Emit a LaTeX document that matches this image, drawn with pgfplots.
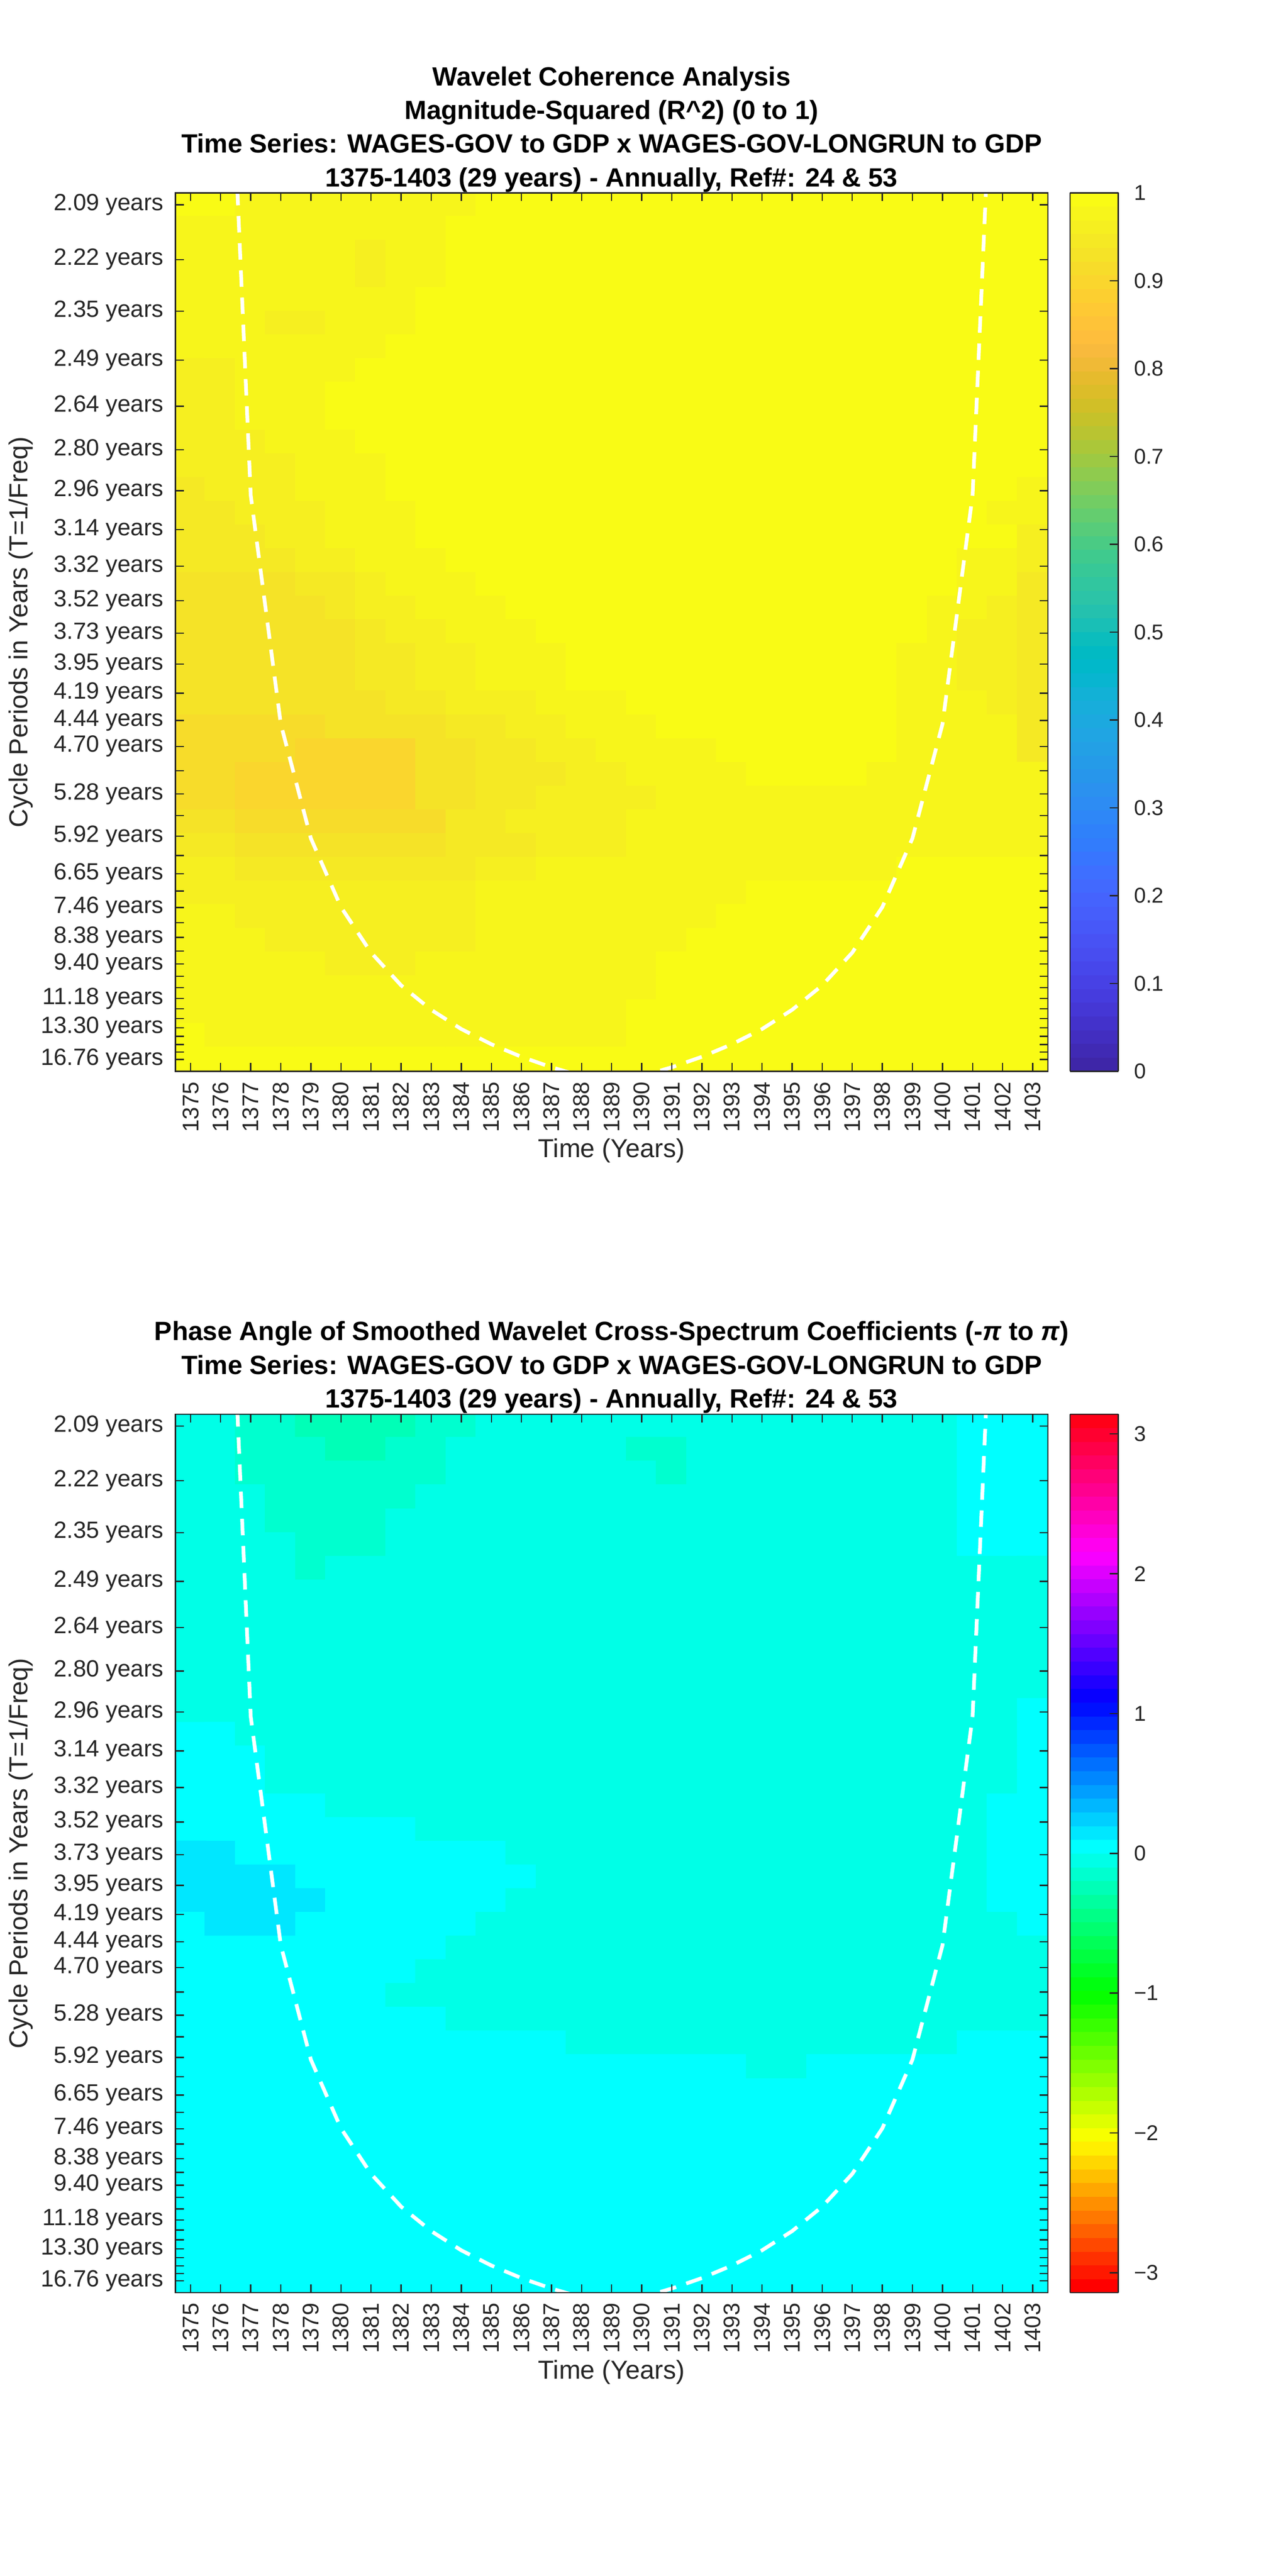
\documentclass[border=0pt]{standalone}
\usepackage{fontspec}
\setmainfont{Liberation Sans}
\usepackage{pgfplots}
\usepackage{pgfplotstable}
\pgfplotsset{compat=1.18}
\definecolor{axc}{HTML}{262626}
\newcommand\xtfont{\fontsize{5.5}{6}\selectfont}
\newcommand\ytfont{\fontsize{5.7}{6.5}\selectfont}
\newcommand\cbfont{\fontsize{5.2}{6}\selectfont}
\newcommand\labfont{\fontsize{6.3}{7.5}\selectfont}
\newcommand\titfont{\bfseries\fontsize{6.4}{8.17}\selectfont}

\pgfplotsset{
  colormap={parula}{
    rgb=(0.2422,0.1504,0.6603) rgb=(0.2504,0.1650,0.7076) rgb=(0.2578,0.1818,0.7511) rgb=(0.2647,0.1978,0.7952)
    rgb=(0.2706,0.2147,0.8364) rgb=(0.2751,0.2342,0.8710) rgb=(0.2783,0.2559,0.8991) rgb=(0.2803,0.2782,0.9221)
    rgb=(0.2813,0.3006,0.9414) rgb=(0.2810,0.3228,0.9579) rgb=(0.2795,0.3447,0.9717) rgb=(0.2760,0.3667,0.9829)
    rgb=(0.2699,0.3892,0.9906) rgb=(0.2602,0.4123,0.9952) rgb=(0.2440,0.4358,0.9988) rgb=(0.2206,0.4603,0.9973)
    rgb=(0.1963,0.4847,0.9892) rgb=(0.1834,0.5074,0.9798) rgb=(0.1786,0.5289,0.9682) rgb=(0.1764,0.5499,0.9520)
    rgb=(0.1687,0.5703,0.9359) rgb=(0.1540,0.5902,0.9218) rgb=(0.1460,0.6091,0.9079) rgb=(0.1380,0.6276,0.8973)
    rgb=(0.1248,0.6459,0.8883) rgb=(0.1113,0.6635,0.8763) rgb=(0.0952,0.6798,0.8598) rgb=(0.0689,0.6948,0.8394)
    rgb=(0.0297,0.7082,0.8163) rgb=(0.0036,0.7203,0.7917) rgb=(0.0067,0.7312,0.7660) rgb=(0.0433,0.7411,0.7394)
    rgb=(0.0964,0.7500,0.7120) rgb=(0.1408,0.7584,0.6842) rgb=(0.1717,0.7670,0.6554) rgb=(0.1938,0.7758,0.6251)
    rgb=(0.2161,0.7843,0.5923) rgb=(0.2470,0.7918,0.5567) rgb=(0.2906,0.7973,0.5188) rgb=(0.3406,0.8008,0.4789)
    rgb=(0.3909,0.8029,0.4354) rgb=(0.4456,0.8024,0.3909) rgb=(0.5044,0.7993,0.3480) rgb=(0.5616,0.7942,0.3045)
    rgb=(0.6174,0.7876,0.2612) rgb=(0.6720,0.7793,0.2227) rgb=(0.7242,0.7698,0.1910) rgb=(0.7738,0.7598,0.1646)
    rgb=(0.8203,0.7498,0.1535) rgb=(0.8634,0.7406,0.1596) rgb=(0.9035,0.7330,0.1774) rgb=(0.9393,0.7288,0.2100)
    rgb=(0.9728,0.7298,0.2394) rgb=(0.9956,0.7434,0.2371) rgb=(0.9970,0.7659,0.2199) rgb=(0.9952,0.7893,0.2028)
    rgb=(0.9892,0.8136,0.1885) rgb=(0.9786,0.8386,0.1766) rgb=(0.9676,0.8639,0.1643) rgb=(0.9610,0.8890,0.1537)
    rgb=(0.9597,0.9135,0.1423) rgb=(0.9628,0.9373,0.1265) rgb=(0.9691,0.9606,0.1064) rgb=(0.9769,0.9839,0.0805)
  },
  colormap={phasehsv}{
    rgb=(1,0,0) rgb=(1,0.09375,0) rgb=(1,0.1875,0) rgb=(1,0.28125,0) rgb=(1,0.375,0) rgb=(1,0.46875,0)
    rgb=(1,0.5625,0) rgb=(1,0.65625,0) rgb=(1,0.75,0) rgb=(1,0.84375,0) rgb=(1,0.9375,0) rgb=(0.96875,1,0)
    rgb=(0.875,1,0) rgb=(0.78125,1,0) rgb=(0.6875,1,0) rgb=(0.59375,1,0) rgb=(0.5,1,0) rgb=(0.40625,1,0)
    rgb=(0.3125,1,0) rgb=(0.21875,1,0) rgb=(0.125,1,0) rgb=(0.03125,1,0) rgb=(0,1,0.0625) rgb=(0,1,0.15625)
    rgb=(0,1,0.25) rgb=(0,1,0.34375) rgb=(0,1,0.4375) rgb=(0,1,0.53125) rgb=(0,1,0.625) rgb=(0,1,0.71875)
    rgb=(0,1,0.8125) rgb=(0,1,0.90625) rgb=(0,1,1) rgb=(0,0.90625,1) rgb=(0,0.8125,1) rgb=(0,0.71875,1)
    rgb=(0,0.625,1) rgb=(0,0.53125,1) rgb=(0,0.4375,1) rgb=(0,0.34375,1) rgb=(0,0.25,1) rgb=(0,0.15625,1)
    rgb=(0,0.0625,1) rgb=(0.03125,0,1) rgb=(0.125,0,1) rgb=(0.21875,0,1) rgb=(0.3125,0,1) rgb=(0.40625,0,1)
    rgb=(0.5,0,1) rgb=(0.59375,0,1) rgb=(0.6875,0,1) rgb=(0.78125,0,1) rgb=(0.875,0,1) rgb=(0.96875,0,1)
    rgb=(1,0,0.9375) rgb=(1,0,0.84375) rgb=(1,0,0.75) rgb=(1,0,0.65625) rgb=(1,0,0.5625) rgb=(1,0,0.46875)
    rgb=(1,0,0.375) rgb=(1,0,0.28125) rgb=(1,0,0.1875) rgb=(1,0,0.09375)
  },
  colorbar shift/.style={xshift=5.4pt},
  wave/.style={
    scale only axis, width=211.7pt, height=213.2pt,
    xmin=1374.5, xmax=1403.5, ymin=-0.5, ymax=36.5, y dir=reverse,
    axis on top, tick align=inside, major tick length=2pt,
    xtick={1375,1376,...,1403},
    xticklabels={1375,1376,1377,1378,1379,1380,1381,1382,1383,1384,1385,1386,1387,1388,1389,1390,1391,1392,1393,1394,1395,1396,1397,1398,1399,1400,1401,1402,1403},
    ytick={0,2.309,4.489,6.546,8.488,10.321,12.050,13.683,15.225,16.679,18.052,19.348,20.572,21.727,22.816,23.845,24.815,25.732,26.597,27.413,28.184,28.911,29.598,30.246,30.857,31.434,31.979,32.494,32.979,33.438,33.870,34.278,34.664,35.027,35.370,35.694,36},
    yticklabels={2.09 years,2.22 years,2.35 years,2.49 years,2.64 years,2.80 years,2.96 years,3.14 years,3.32 years,3.52 years,3.73 years,3.95 years,4.19 years,4.44 years,4.70 years,{},5.28 years,{},5.92 years,{},6.65 years,{},7.46 years,{},8.38 years,{},9.40 years,{},{},11.18 years,{},{},13.30 years,{},{},{},16.76 years},
    xticklabel style={font=\xtfont, text=axc, rotate=90, anchor=east},
    xticklabel shift=-1pt,
    yticklabel style={font=\ytfont, text=axc},
    yticklabel shift=-0.6pt,
    axis line style={draw=axc, line width=0.3pt},
    tick style={draw=axc, line width=0.3pt},
    every axis x label/.style={at={(axis description cs:0.5,0)}, anchor=center, yshift=-19.3pt, font=\labfont, text=axc},
    every axis y label/.style={at={(axis description cs:-0.1776,0.5)}, anchor=center, rotate=90, font=\labfont, text=axc},
    every axis title/.style={at={(axis description cs:0.5,1)}, anchor=south, inner sep=0pt, align=center, font=\titfont, text=black},
    xlabel={Time (Years)}, ylabel={Cycle Periods in Years (T=1/Freq)},
    colormap access=piecewise constant,
    colorbar,
    colorbar style={at={(parent axis.north east)}, anchor=north west,
      scale only axis, width=11.7pt, height=213.2pt,
      tick align=inside, major tick length=2.1pt,
      ytick pos=right, yticklabel pos=right,
      yticklabel style={font=\cbfont, text=axc}, yticklabel shift=0.3pt,
      axis line style={draw=axc, line width=0.3pt},
      tick style={draw=axc, line width=0.3pt}},
  },
  coi/.style={white, line width=0.9pt, dash pattern=on 4pt off 2.6pt, mark=none},
  heat/.style={matrix plot*, mesh/cols=29, point meta=explicit},
}

\pgfplotstableread{
x y
1376 -16.69
1377 12.23
1378 21.87
1379 26.69
1380 29.58
1381 31.50
1382 32.88
1383 33.91
1384 34.72
1385 35.36
1386 35.89
1387 36.33
1388 36.70
1389 37.01
1390 36.70
1391 36.33
1392 35.89
1393 35.36
1394 34.72
1395 33.91
1396 32.88
1397 31.50
1398 29.58
1399 26.69
1400 21.87
1401 12.23
1402 -16.69
}\coitab

\pgfplotstableread[row sep=\\, header=false]{
0.99\\ 0.99\\ 0.975\\ 0.975\\ 0.975\\ 0.975\\ 0.975\\ 0.975\\ 0.975\\ 0.975\\
0.99\\ 0.99\\ 0.99\\ 0.99\\ 0.99\\ 0.99\\ 0.99\\ 0.99\\ 0.99\\ 0.99\\
0.99\\ 0.99\\ 0.99\\ 0.99\\ 0.99\\ 0.99\\ 0.99\\ 0.99\\ 0.99\\
0.975\\ 0.975\\ 0.975\\ 0.975\\ 0.975\\ 0.975\\ 0.975\\ 0.975\\ 0.975\\ 0.99\\
0.99\\ 0.99\\ 0.99\\ 0.99\\ 0.99\\ 0.99\\ 0.99\\ 0.99\\ 0.99\\ 0.99\\
0.99\\ 0.99\\ 0.99\\ 0.99\\ 0.99\\ 0.99\\ 0.99\\ 0.99\\ 0.99\\
0.975\\ 0.975\\ 0.975\\ 0.975\\ 0.975\\ 0.975\\ 0.96\\ 0.975\\ 0.975\\ 0.99\\
0.99\\ 0.99\\ 0.99\\ 0.99\\ 0.99\\ 0.99\\ 0.99\\ 0.99\\ 0.99\\ 0.99\\
0.99\\ 0.99\\ 0.99\\ 0.99\\ 0.99\\ 0.99\\ 0.99\\ 0.99\\ 0.99\\
0.975\\ 0.975\\ 0.975\\ 0.975\\ 0.975\\ 0.975\\ 0.96\\ 0.975\\ 0.975\\ 0.99\\
0.99\\ 0.99\\ 0.99\\ 0.99\\ 0.99\\ 0.99\\ 0.99\\ 0.99\\ 0.99\\ 0.99\\
0.99\\ 0.99\\ 0.99\\ 0.99\\ 0.99\\ 0.99\\ 0.99\\ 0.99\\ 0.99\\
0.975\\ 0.975\\ 0.975\\ 0.975\\ 0.975\\ 0.975\\ 0.975\\ 0.975\\ 0.99\\ 0.99\\
0.99\\ 0.99\\ 0.99\\ 0.99\\ 0.99\\ 0.99\\ 0.99\\ 0.99\\ 0.99\\ 0.99\\
0.99\\ 0.99\\ 0.99\\ 0.99\\ 0.99\\ 0.99\\ 0.99\\ 0.99\\ 0.99\\
0.975\\ 0.975\\ 0.975\\ 0.96\\ 0.96\\ 0.975\\ 0.975\\ 0.975\\ 0.99\\ 0.99\\
0.99\\ 0.99\\ 0.99\\ 0.99\\ 0.99\\ 0.99\\ 0.99\\ 0.99\\ 0.99\\ 0.99\\
0.99\\ 0.99\\ 0.99\\ 0.99\\ 0.99\\ 0.99\\ 0.99\\ 0.99\\ 0.99\\
0.975\\ 0.975\\ 0.975\\ 0.975\\ 0.975\\ 0.975\\ 0.975\\ 0.99\\ 0.99\\ 0.99\\
0.99\\ 0.99\\ 0.99\\ 0.99\\ 0.99\\ 0.99\\ 0.99\\ 0.99\\ 0.99\\ 0.99\\
0.99\\ 0.99\\ 0.99\\ 0.99\\ 0.99\\ 0.99\\ 0.99\\ 0.99\\ 0.99\\
0.96\\ 0.96\\ 0.975\\ 0.975\\ 0.975\\ 0.975\\ 0.99\\ 0.99\\ 0.99\\ 0.99\\
0.99\\ 0.99\\ 0.99\\ 0.99\\ 0.99\\ 0.99\\ 0.99\\ 0.99\\ 0.99\\ 0.99\\
0.99\\ 0.99\\ 0.99\\ 0.99\\ 0.99\\ 0.99\\ 0.99\\ 0.99\\ 0.99\\
0.96\\ 0.96\\ 0.975\\ 0.975\\ 0.975\\ 0.99\\ 0.99\\ 0.99\\ 0.99\\ 0.99\\
0.99\\ 0.99\\ 0.99\\ 0.99\\ 0.99\\ 0.99\\ 0.99\\ 0.99\\ 0.99\\ 0.99\\
0.99\\ 0.99\\ 0.99\\ 0.99\\ 0.99\\ 0.99\\ 0.99\\ 0.99\\ 0.99\\
0.96\\ 0.96\\ 0.975\\ 0.975\\ 0.975\\ 0.99\\ 0.99\\ 0.99\\ 0.99\\ 0.99\\
0.99\\ 0.99\\ 0.99\\ 0.99\\ 0.99\\ 0.99\\ 0.99\\ 0.99\\ 0.99\\ 0.99\\
0.99\\ 0.99\\ 0.99\\ 0.99\\ 0.99\\ 0.99\\ 0.99\\ 0.99\\ 0.99\\
0.96\\ 0.96\\ 0.96\\ 0.975\\ 0.975\\ 0.975\\ 0.99\\ 0.99\\ 0.99\\ 0.99\\
0.99\\ 0.99\\ 0.99\\ 0.99\\ 0.99\\ 0.99\\ 0.99\\ 0.99\\ 0.99\\ 0.99\\
0.99\\ 0.99\\ 0.99\\ 0.99\\ 0.99\\ 0.99\\ 0.99\\ 0.99\\ 0.99\\
0.96\\ 0.96\\ 0.96\\ 0.96\\ 0.975\\ 0.975\\ 0.975\\ 0.99\\ 0.99\\ 0.99\\
0.99\\ 0.99\\ 0.99\\ 0.99\\ 0.99\\ 0.99\\ 0.99\\ 0.99\\ 0.99\\ 0.99\\
0.99\\ 0.99\\ 0.99\\ 0.99\\ 0.99\\ 0.99\\ 0.99\\ 0.99\\ 0.99\\
0.945\\ 0.96\\ 0.96\\ 0.96\\ 0.975\\ 0.975\\ 0.975\\ 0.99\\ 0.99\\ 0.99\\
0.99\\ 0.99\\ 0.99\\ 0.99\\ 0.99\\ 0.99\\ 0.99\\ 0.99\\ 0.99\\ 0.99\\
0.99\\ 0.99\\ 0.99\\ 0.99\\ 0.99\\ 0.99\\ 0.99\\ 0.99\\ 0.975\\
0.945\\ 0.945\\ 0.96\\ 0.96\\ 0.96\\ 0.975\\ 0.975\\ 0.975\\ 0.99\\ 0.99\\
0.99\\ 0.99\\ 0.99\\ 0.99\\ 0.99\\ 0.99\\ 0.99\\ 0.99\\ 0.99\\ 0.99\\
0.99\\ 0.99\\ 0.99\\ 0.99\\ 0.99\\ 0.99\\ 0.99\\ 0.975\\ 0.975\\
0.945\\ 0.945\\ 0.945\\ 0.96\\ 0.96\\ 0.975\\ 0.975\\ 0.975\\ 0.99\\ 0.99\\
0.99\\ 0.99\\ 0.99\\ 0.99\\ 0.99\\ 0.99\\ 0.99\\ 0.99\\ 0.99\\ 0.99\\
0.99\\ 0.99\\ 0.99\\ 0.99\\ 0.99\\ 0.99\\ 0.99\\ 0.99\\ 0.96\\
0.945\\ 0.945\\ 0.945\\ 0.945\\ 0.96\\ 0.96\\ 0.975\\ 0.975\\ 0.975\\ 0.99\\
0.99\\ 0.99\\ 0.99\\ 0.99\\ 0.99\\ 0.99\\ 0.99\\ 0.99\\ 0.99\\ 0.99\\
0.99\\ 0.99\\ 0.99\\ 0.99\\ 0.99\\ 0.99\\ 0.975\\ 0.975\\ 0.96\\
0.93\\ 0.93\\ 0.93\\ 0.93\\ 0.945\\ 0.945\\ 0.96\\ 0.975\\ 0.975\\ 0.975\\
0.99\\ 0.99\\ 0.99\\ 0.99\\ 0.99\\ 0.99\\ 0.99\\ 0.99\\ 0.99\\ 0.99\\
0.99\\ 0.99\\ 0.99\\ 0.99\\ 0.99\\ 0.99\\ 0.975\\ 0.975\\ 0.945\\
0.93\\ 0.93\\ 0.93\\ 0.93\\ 0.93\\ 0.945\\ 0.96\\ 0.96\\ 0.975\\ 0.975\\
0.975\\ 0.99\\ 0.99\\ 0.99\\ 0.99\\ 0.99\\ 0.99\\ 0.99\\ 0.99\\ 0.99\\
0.99\\ 0.99\\ 0.99\\ 0.99\\ 0.99\\ 0.975\\ 0.975\\ 0.96\\ 0.945\\
0.93\\ 0.93\\ 0.93\\ 0.93\\ 0.93\\ 0.93\\ 0.945\\ 0.96\\ 0.96\\ 0.975\\
0.975\\ 0.975\\ 0.99\\ 0.99\\ 0.99\\ 0.99\\ 0.99\\ 0.99\\ 0.99\\ 0.99\\
0.99\\ 0.99\\ 0.99\\ 0.99\\ 0.99\\ 0.975\\ 0.96\\ 0.96\\ 0.945\\
0.93\\ 0.93\\ 0.93\\ 0.93\\ 0.93\\ 0.93\\ 0.945\\ 0.945\\ 0.96\\ 0.96\\
0.975\\ 0.975\\ 0.975\\ 0.99\\ 0.99\\ 0.99\\ 0.99\\ 0.99\\ 0.99\\ 0.99\\
0.99\\ 0.99\\ 0.99\\ 0.99\\ 0.975\\ 0.975\\ 0.96\\ 0.96\\ 0.945\\
0.93\\ 0.93\\ 0.93\\ 0.93\\ 0.93\\ 0.93\\ 0.945\\ 0.945\\ 0.96\\ 0.96\\
0.975\\ 0.975\\ 0.975\\ 0.99\\ 0.99\\ 0.99\\ 0.99\\ 0.99\\ 0.99\\ 0.99\\
0.99\\ 0.99\\ 0.99\\ 0.99\\ 0.975\\ 0.975\\ 0.96\\ 0.96\\ 0.945\\
0.93\\ 0.93\\ 0.93\\ 0.93\\ 0.93\\ 0.93\\ 0.93\\ 0.945\\ 0.945\\ 0.96\\
0.96\\ 0.96\\ 0.975\\ 0.975\\ 0.975\\ 0.99\\ 0.99\\ 0.99\\ 0.99\\ 0.99\\
0.99\\ 0.99\\ 0.99\\ 0.99\\ 0.975\\ 0.975\\ 0.975\\ 0.96\\ 0.945\\
0.915\\ 0.915\\ 0.915\\ 0.915\\ 0.915\\ 0.93\\ 0.93\\ 0.93\\ 0.93\\ 0.945\\
0.945\\ 0.96\\ 0.96\\ 0.975\\ 0.975\\ 0.975\\ 0.99\\ 0.99\\ 0.99\\ 0.99\\
0.99\\ 0.99\\ 0.99\\ 0.99\\ 0.975\\ 0.975\\ 0.975\\ 0.975\\ 0.945\\
0.915\\ 0.915\\ 0.915\\ 0.915\\ 0.90\\ 0.90\\ 0.90\\ 0.90\\ 0.93\\ 0.93\\
0.945\\ 0.945\\ 0.96\\ 0.96\\ 0.975\\ 0.975\\ 0.975\\ 0.975\\ 0.99\\ 0.99\\
0.99\\ 0.99\\ 0.99\\ 0.99\\ 0.975\\ 0.975\\ 0.975\\ 0.975\\ 0.945\\
0.915\\ 0.915\\ 0.90\\ 0.90\\ 0.90\\ 0.90\\ 0.90\\ 0.90\\ 0.93\\ 0.93\\
0.945\\ 0.945\\ 0.945\\ 0.96\\ 0.96\\ 0.975\\ 0.975\\ 0.975\\ 0.975\\ 0.99\\
0.99\\ 0.99\\ 0.99\\ 0.975\\ 0.975\\ 0.975\\ 0.975\\ 0.975\\ 0.975\\
0.915\\ 0.915\\ 0.90\\ 0.90\\ 0.90\\ 0.90\\ 0.90\\ 0.90\\ 0.93\\ 0.93\\
0.945\\ 0.945\\ 0.96\\ 0.96\\ 0.96\\ 0.96\\ 0.975\\ 0.975\\ 0.975\\ 0.975\\
0.975\\ 0.975\\ 0.975\\ 0.975\\ 0.975\\ 0.975\\ 0.975\\ 0.975\\ 0.975\\
0.93\\ 0.93\\ 0.915\\ 0.915\\ 0.915\\ 0.915\\ 0.915\\ 0.915\\ 0.915\\ 0.945\\
0.945\\ 0.96\\ 0.96\\ 0.96\\ 0.96\\ 0.975\\ 0.975\\ 0.975\\ 0.975\\ 0.975\\
0.975\\ 0.975\\ 0.975\\ 0.975\\ 0.975\\ 0.975\\ 0.975\\ 0.975\\ 0.975\\
0.945\\ 0.945\\ 0.93\\ 0.93\\ 0.93\\ 0.93\\ 0.93\\ 0.93\\ 0.93\\ 0.945\\
0.945\\ 0.945\\ 0.96\\ 0.96\\ 0.96\\ 0.975\\ 0.975\\ 0.975\\ 0.975\\ 0.975\\
0.975\\ 0.975\\ 0.975\\ 0.975\\ 0.975\\ 0.975\\ 0.975\\ 0.975\\ 0.975\\
0.96\\ 0.96\\ 0.945\\ 0.945\\ 0.945\\ 0.945\\ 0.945\\ 0.945\\ 0.945\\ 0.945\\
0.96\\ 0.96\\ 0.975\\ 0.975\\ 0.975\\ 0.975\\ 0.975\\ 0.975\\ 0.975\\ 0.975\\
0.975\\ 0.975\\ 0.975\\ 0.975\\ 0.99\\ 0.99\\ 0.99\\ 0.99\\ 0.99\\
0.96\\ 0.96\\ 0.96\\ 0.96\\ 0.96\\ 0.96\\ 0.96\\ 0.96\\ 0.96\\ 0.96\\
0.975\\ 0.975\\ 0.975\\ 0.975\\ 0.975\\ 0.975\\ 0.975\\ 0.975\\ 0.975\\ 0.99\\
0.99\\ 0.99\\ 0.99\\ 0.99\\ 0.99\\ 0.99\\ 0.99\\ 0.99\\ 0.99\\
0.975\\ 0.975\\ 0.96\\ 0.96\\ 0.96\\ 0.96\\ 0.96\\ 0.96\\ 0.96\\ 0.96\\
0.975\\ 0.975\\ 0.975\\ 0.975\\ 0.975\\ 0.975\\ 0.975\\ 0.975\\ 0.99\\ 0.99\\
0.99\\ 0.99\\ 0.99\\ 0.99\\ 0.99\\ 0.99\\ 0.99\\ 0.99\\ 0.99\\
0.975\\ 0.975\\ 0.975\\ 0.96\\ 0.96\\ 0.96\\ 0.96\\ 0.96\\ 0.96\\ 0.96\\
0.975\\ 0.975\\ 0.975\\ 0.975\\ 0.975\\ 0.975\\ 0.975\\ 0.99\\ 0.99\\ 0.99\\
0.99\\ 0.99\\ 0.99\\ 0.99\\ 0.99\\ 0.99\\ 0.99\\ 0.99\\ 0.99\\
0.975\\ 0.975\\ 0.975\\ 0.975\\ 0.975\\ 0.96\\ 0.96\\ 0.96\\ 0.975\\ 0.975\\
0.975\\ 0.975\\ 0.975\\ 0.975\\ 0.975\\ 0.975\\ 0.99\\ 0.99\\ 0.99\\ 0.99\\
0.99\\ 0.99\\ 0.99\\ 0.99\\ 0.99\\ 0.99\\ 0.99\\ 0.99\\ 0.99\\
0.975\\ 0.975\\ 0.975\\ 0.975\\ 0.975\\ 0.975\\ 0.975\\ 0.975\\ 0.975\\ 0.975\\
0.975\\ 0.975\\ 0.975\\ 0.975\\ 0.975\\ 0.975\\ 0.99\\ 0.99\\ 0.99\\ 0.99\\
0.99\\ 0.99\\ 0.99\\ 0.99\\ 0.99\\ 0.99\\ 0.99\\ 0.99\\ 0.99\\
0.975\\ 0.975\\ 0.975\\ 0.975\\ 0.975\\ 0.975\\ 0.975\\ 0.975\\ 0.975\\ 0.975\\
0.975\\ 0.975\\ 0.975\\ 0.975\\ 0.975\\ 0.99\\ 0.99\\ 0.99\\ 0.99\\ 0.99\\
0.99\\ 0.99\\ 0.99\\ 0.99\\ 0.99\\ 0.99\\ 0.99\\ 0.99\\ 0.99\\
0.99\\ 0.975\\ 0.975\\ 0.975\\ 0.975\\ 0.975\\ 0.975\\ 0.975\\ 0.975\\ 0.975\\
0.975\\ 0.975\\ 0.975\\ 0.975\\ 0.975\\ 0.99\\ 0.99\\ 0.99\\ 0.99\\ 0.99\\
0.99\\ 0.99\\ 0.99\\ 0.99\\ 0.99\\ 0.99\\ 0.99\\ 0.99\\ 0.99\\
0.99\\ 0.99\\ 0.99\\ 0.99\\ 0.99\\ 0.99\\ 0.99\\ 0.99\\ 0.99\\ 0.99\\
0.99\\ 0.99\\ 0.99\\ 0.99\\ 0.99\\ 0.99\\ 0.99\\ 0.99\\ 0.99\\ 0.99\\
0.99\\ 0.99\\ 0.99\\ 0.99\\ 0.99\\ 0.99\\ 0.99\\ 0.99\\ 0.99\\
}\topdata

\pgfplotstableread[row sep=\\, header=false]{
-0.05\\ -0.05\\ -0.15\\ -0.15\\ -0.25\\ -0.25\\ -0.25\\ -0.25\\ -0.15\\ -0.15\\
-0.05\\ -0.05\\ -0.05\\ -0.05\\ -0.05\\ -0.05\\ -0.05\\ -0.05\\ -0.05\\ -0.05\\
-0.05\\ -0.05\\ -0.05\\ -0.05\\ -0.05\\ -0.05\\ 0.05\\ 0.05\\ 0.05\\
-0.05\\ -0.05\\ -0.15\\ -0.15\\ -0.15\\ -0.25\\ -0.25\\ -0.15\\ -0.15\\ -0.05\\
-0.05\\ -0.05\\ -0.05\\ -0.05\\ -0.05\\ -0.15\\ -0.15\\ -0.05\\ -0.05\\ -0.05\\
-0.05\\ -0.05\\ -0.05\\ -0.05\\ -0.05\\ -0.05\\ 0.05\\ 0.05\\ 0.05\\
-0.05\\ -0.05\\ -0.15\\ -0.15\\ -0.15\\ -0.15\\ -0.15\\ -0.15\\ -0.15\\ -0.05\\
-0.05\\ -0.05\\ -0.05\\ -0.05\\ -0.05\\ -0.05\\ -0.15\\ -0.05\\ -0.05\\ -0.05\\
-0.05\\ -0.05\\ -0.05\\ -0.05\\ -0.05\\ -0.05\\ 0.05\\ 0.05\\ 0.05\\
-0.05\\ -0.05\\ -0.05\\ -0.15\\ -0.15\\ -0.15\\ -0.15\\ -0.15\\ -0.05\\ -0.05\\
-0.05\\ -0.05\\ -0.05\\ -0.05\\ -0.05\\ -0.05\\ -0.05\\ -0.05\\ -0.05\\ -0.05\\
-0.05\\ -0.05\\ -0.05\\ -0.05\\ -0.05\\ -0.05\\ 0.05\\ 0.05\\ 0.05\\
-0.05\\ -0.05\\ -0.05\\ -0.15\\ -0.15\\ -0.15\\ -0.15\\ -0.05\\ -0.05\\ -0.05\\
-0.05\\ -0.05\\ -0.05\\ -0.05\\ -0.05\\ -0.05\\ -0.05\\ -0.05\\ -0.05\\ -0.05\\
-0.05\\ -0.05\\ -0.05\\ -0.05\\ -0.05\\ -0.05\\ 0.05\\ 0.05\\ 0.05\\
-0.05\\ -0.05\\ -0.05\\ -0.05\\ -0.15\\ -0.15\\ -0.15\\ -0.05\\ -0.05\\ -0.05\\
-0.05\\ -0.05\\ -0.05\\ -0.05\\ -0.05\\ -0.05\\ -0.05\\ -0.05\\ -0.05\\ -0.05\\
-0.05\\ -0.05\\ -0.05\\ -0.05\\ -0.05\\ -0.05\\ 0.05\\ 0.05\\ 0.05\\
-0.05\\ -0.05\\ -0.05\\ -0.05\\ -0.15\\ -0.05\\ -0.05\\ -0.05\\ -0.05\\ -0.05\\
-0.05\\ -0.05\\ -0.05\\ -0.05\\ -0.05\\ -0.05\\ -0.05\\ -0.05\\ -0.05\\ -0.05\\
-0.05\\ -0.05\\ -0.05\\ -0.05\\ -0.05\\ -0.05\\ -0.05\\ -0.05\\ -0.05\\
-0.05\\ -0.05\\ -0.05\\ -0.05\\ -0.05\\ -0.05\\ -0.05\\ -0.05\\ -0.05\\ -0.05\\
-0.05\\ -0.05\\ -0.05\\ -0.05\\ -0.05\\ -0.05\\ -0.05\\ -0.05\\ -0.05\\ -0.05\\
-0.05\\ -0.05\\ -0.05\\ -0.05\\ -0.05\\ -0.05\\ -0.05\\ -0.05\\ -0.05\\
-0.05\\ -0.05\\ -0.05\\ -0.05\\ -0.05\\ -0.05\\ -0.05\\ -0.05\\ -0.05\\ -0.05\\
-0.05\\ -0.05\\ -0.05\\ -0.05\\ -0.05\\ -0.05\\ -0.05\\ -0.05\\ -0.05\\ -0.05\\
-0.05\\ -0.05\\ -0.05\\ -0.05\\ -0.05\\ -0.05\\ -0.05\\ -0.05\\ -0.05\\
-0.05\\ -0.05\\ -0.05\\ -0.05\\ -0.05\\ -0.05\\ -0.05\\ -0.05\\ -0.05\\ -0.05\\
-0.05\\ -0.05\\ -0.05\\ -0.05\\ -0.05\\ -0.05\\ -0.05\\ -0.05\\ -0.05\\ -0.05\\
-0.05\\ -0.05\\ -0.05\\ -0.05\\ -0.05\\ -0.05\\ -0.05\\ -0.05\\ -0.05\\
-0.05\\ -0.05\\ -0.05\\ -0.05\\ -0.05\\ -0.05\\ -0.05\\ -0.05\\ -0.05\\ -0.05\\
-0.05\\ -0.05\\ -0.05\\ -0.05\\ -0.05\\ -0.05\\ -0.05\\ -0.05\\ -0.05\\ -0.05\\
-0.05\\ -0.05\\ -0.05\\ -0.05\\ -0.05\\ -0.05\\ -0.05\\ -0.05\\ -0.05\\
-0.05\\ -0.05\\ -0.05\\ -0.05\\ -0.05\\ -0.05\\ -0.05\\ -0.05\\ -0.05\\ -0.05\\
-0.05\\ -0.05\\ -0.05\\ -0.05\\ -0.05\\ -0.05\\ -0.05\\ -0.05\\ -0.05\\ -0.05\\
-0.05\\ -0.05\\ -0.05\\ -0.05\\ -0.05\\ -0.05\\ -0.05\\ -0.05\\ -0.05\\
-0.05\\ -0.05\\ -0.05\\ -0.05\\ -0.05\\ -0.05\\ -0.05\\ -0.05\\ -0.05\\ -0.05\\
-0.05\\ -0.05\\ -0.05\\ -0.05\\ -0.05\\ -0.05\\ -0.05\\ -0.05\\ -0.05\\ -0.05\\
-0.05\\ -0.05\\ -0.05\\ -0.05\\ -0.05\\ -0.05\\ -0.05\\ -0.05\\ 0.05\\
0.05\\ 0.05\\ -0.05\\ -0.05\\ -0.05\\ -0.05\\ -0.05\\ -0.05\\ -0.05\\ -0.05\\
-0.05\\ -0.05\\ -0.05\\ -0.05\\ -0.05\\ -0.05\\ -0.05\\ -0.05\\ -0.05\\ -0.05\\
-0.05\\ -0.05\\ -0.05\\ -0.05\\ -0.05\\ -0.05\\ -0.05\\ -0.05\\ 0.05\\
0.05\\ 0.05\\ 0.05\\ -0.05\\ -0.05\\ -0.05\\ -0.05\\ -0.05\\ -0.05\\ -0.05\\
-0.05\\ -0.05\\ -0.05\\ -0.05\\ -0.05\\ -0.05\\ -0.05\\ -0.05\\ -0.05\\ -0.05\\
-0.05\\ -0.05\\ -0.05\\ -0.05\\ -0.05\\ -0.05\\ -0.05\\ -0.05\\ 0.05\\
0.05\\ 0.05\\ 0.05\\ -0.05\\ -0.05\\ -0.05\\ -0.05\\ -0.05\\ -0.05\\ -0.05\\
-0.05\\ -0.05\\ -0.05\\ -0.05\\ -0.05\\ -0.05\\ -0.05\\ -0.05\\ -0.05\\ -0.05\\
-0.05\\ -0.05\\ -0.05\\ -0.05\\ -0.05\\ -0.05\\ -0.05\\ -0.05\\ 0.05\\
0.05\\ 0.05\\ 0.05\\ 0.05\\ 0.05\\ -0.05\\ -0.05\\ -0.05\\ -0.05\\ -0.05\\
-0.05\\ -0.05\\ -0.05\\ -0.05\\ -0.05\\ -0.05\\ -0.05\\ -0.05\\ -0.05\\ -0.05\\
-0.05\\ -0.05\\ -0.05\\ -0.05\\ -0.05\\ -0.05\\ -0.05\\ 0.05\\ 0.05\\
0.05\\ 0.05\\ 0.05\\ 0.05\\ 0.05\\ 0.05\\ 0.05\\ 0.05\\ -0.05\\ -0.05\\
-0.05\\ -0.05\\ -0.05\\ -0.05\\ -0.05\\ -0.05\\ -0.05\\ -0.05\\ -0.05\\ -0.05\\
-0.05\\ -0.05\\ -0.05\\ -0.05\\ -0.05\\ -0.05\\ -0.05\\ 0.05\\ 0.05\\
0.15\\ 0.15\\ 0.05\\ 0.05\\ 0.05\\ 0.05\\ 0.05\\ 0.05\\ 0.05\\ 0.05\\
0.05\\ -0.05\\ -0.05\\ -0.05\\ -0.05\\ -0.05\\ -0.05\\ -0.05\\ -0.05\\ -0.05\\
-0.05\\ -0.05\\ -0.05\\ -0.05\\ -0.05\\ -0.05\\ -0.05\\ 0.05\\ 0.05\\
0.15\\ 0.15\\ 0.15\\ 0.15\\ 0.05\\ 0.05\\ 0.05\\ 0.05\\ 0.05\\ 0.05\\
0.05\\ 0.05\\ -0.05\\ -0.05\\ -0.05\\ -0.05\\ -0.05\\ -0.05\\ -0.05\\ -0.05\\
-0.05\\ -0.05\\ -0.05\\ -0.05\\ -0.05\\ -0.05\\ -0.05\\ 0.05\\ 0.05\\
0.15\\ 0.15\\ 0.15\\ 0.15\\ 0.15\\ 0.05\\ 0.05\\ 0.05\\ 0.05\\ 0.05\\
0.05\\ -0.05\\ -0.05\\ -0.05\\ -0.05\\ -0.05\\ -0.05\\ -0.05\\ -0.05\\ -0.05\\
-0.05\\ -0.05\\ -0.05\\ -0.05\\ -0.05\\ -0.05\\ -0.05\\ 0.05\\ 0.05\\
0.05\\ 0.15\\ 0.15\\ 0.15\\ 0.05\\ 0.05\\ 0.05\\ 0.05\\ 0.05\\ 0.05\\
-0.05\\ -0.05\\ -0.05\\ -0.05\\ -0.05\\ -0.05\\ -0.05\\ -0.05\\ -0.05\\ -0.05\\
-0.05\\ -0.05\\ -0.05\\ -0.05\\ -0.05\\ -0.05\\ -0.05\\ -0.05\\ 0.05\\
0.05\\ 0.05\\ 0.05\\ 0.05\\ 0.05\\ 0.05\\ 0.05\\ 0.05\\ 0.05\\ -0.05\\
-0.05\\ -0.05\\ -0.05\\ -0.05\\ -0.05\\ -0.05\\ -0.05\\ -0.05\\ -0.05\\ -0.05\\
-0.05\\ -0.05\\ -0.05\\ -0.05\\ -0.05\\ -0.05\\ -0.05\\ -0.05\\ -0.05\\
0.05\\ 0.05\\ 0.05\\ 0.05\\ 0.05\\ 0.05\\ 0.05\\ 0.05\\ -0.05\\ -0.05\\
-0.05\\ -0.05\\ -0.05\\ -0.05\\ -0.05\\ -0.05\\ -0.05\\ -0.05\\ -0.05\\ -0.05\\
-0.05\\ -0.05\\ -0.05\\ -0.05\\ -0.05\\ -0.05\\ -0.05\\ -0.05\\ -0.05\\
0.05\\ 0.05\\ 0.05\\ 0.05\\ 0.05\\ 0.05\\ 0.05\\ -0.05\\ -0.05\\ -0.05\\
-0.05\\ -0.05\\ -0.05\\ -0.05\\ -0.05\\ -0.05\\ -0.05\\ -0.05\\ -0.05\\ -0.05\\
-0.05\\ -0.05\\ -0.05\\ -0.05\\ -0.05\\ -0.05\\ -0.05\\ -0.05\\ -0.05\\
0.05\\ 0.05\\ 0.05\\ 0.05\\ 0.05\\ 0.05\\ 0.05\\ 0.05\\ 0.05\\ -0.05\\
-0.05\\ -0.05\\ -0.05\\ -0.05\\ -0.05\\ -0.05\\ -0.05\\ -0.05\\ -0.05\\ -0.05\\
-0.05\\ -0.05\\ -0.05\\ -0.05\\ -0.05\\ -0.05\\ -0.05\\ -0.05\\ -0.05\\
0.05\\ 0.05\\ 0.05\\ 0.05\\ 0.05\\ 0.05\\ 0.05\\ 0.05\\ 0.05\\ 0.05\\
0.05\\ 0.05\\ 0.05\\ -0.05\\ -0.05\\ -0.05\\ -0.05\\ -0.05\\ -0.05\\ -0.05\\
-0.05\\ -0.05\\ -0.05\\ -0.05\\ -0.05\\ -0.05\\ 0.05\\ 0.05\\ 0.05\\
0.05\\ 0.05\\ 0.05\\ 0.05\\ 0.05\\ 0.05\\ 0.05\\ 0.05\\ 0.05\\ 0.05\\
0.05\\ 0.05\\ 0.05\\ 0.05\\ 0.05\\ 0.05\\ 0.05\\ 0.05\\ 0.05\\ -0.05\\
-0.05\\ 0.05\\ 0.05\\ 0.05\\ 0.05\\ 0.05\\ 0.05\\ 0.05\\ 0.05\\
0.05\\ 0.05\\ 0.05\\ 0.05\\ 0.05\\ 0.05\\ 0.05\\ 0.05\\ 0.05\\ 0.05\\
0.05\\ 0.05\\ 0.05\\ 0.05\\ 0.05\\ 0.05\\ 0.05\\ 0.05\\ 0.05\\ 0.05\\
0.05\\ 0.05\\ 0.05\\ 0.05\\ 0.05\\ 0.05\\ 0.05\\ 0.05\\ 0.05\\
0.05\\ 0.05\\ 0.05\\ 0.05\\ 0.05\\ 0.05\\ 0.05\\ 0.05\\ 0.05\\ 0.05\\
0.05\\ 0.05\\ 0.05\\ 0.05\\ 0.05\\ 0.05\\ 0.05\\ 0.05\\ 0.05\\ 0.05\\
0.05\\ 0.05\\ 0.05\\ 0.05\\ 0.05\\ 0.05\\ 0.05\\ 0.05\\ 0.05\\
0.05\\ 0.05\\ 0.05\\ 0.05\\ 0.05\\ 0.05\\ 0.05\\ 0.05\\ 0.05\\ 0.05\\
0.05\\ 0.05\\ 0.05\\ 0.05\\ 0.05\\ 0.05\\ 0.05\\ 0.05\\ 0.05\\ 0.05\\
0.05\\ 0.05\\ 0.05\\ 0.05\\ 0.05\\ 0.05\\ 0.05\\ 0.05\\ 0.05\\
0.05\\ 0.05\\ 0.05\\ 0.05\\ 0.05\\ 0.05\\ 0.05\\ 0.05\\ 0.05\\ 0.05\\
0.05\\ 0.05\\ 0.05\\ 0.05\\ 0.05\\ 0.05\\ 0.05\\ 0.05\\ 0.05\\ 0.05\\
0.05\\ 0.05\\ 0.05\\ 0.05\\ 0.05\\ 0.05\\ 0.05\\ 0.05\\ 0.05\\
0.05\\ 0.05\\ 0.05\\ 0.05\\ 0.05\\ 0.05\\ 0.05\\ 0.05\\ 0.05\\ 0.05\\
0.05\\ 0.05\\ 0.05\\ 0.05\\ 0.05\\ 0.05\\ 0.05\\ 0.05\\ 0.05\\ 0.05\\
0.05\\ 0.05\\ 0.05\\ 0.05\\ 0.05\\ 0.05\\ 0.05\\ 0.05\\ 0.05\\
0.05\\ 0.05\\ 0.05\\ 0.05\\ 0.05\\ 0.05\\ 0.05\\ 0.05\\ 0.05\\ 0.05\\
0.05\\ 0.05\\ 0.05\\ 0.05\\ 0.05\\ 0.05\\ 0.05\\ 0.05\\ 0.05\\ 0.05\\
0.05\\ 0.05\\ 0.05\\ 0.05\\ 0.05\\ 0.05\\ 0.05\\ 0.05\\ 0.05\\
0.05\\ 0.05\\ 0.05\\ 0.05\\ 0.05\\ 0.05\\ 0.05\\ 0.05\\ 0.05\\ 0.05\\
0.05\\ 0.05\\ 0.05\\ 0.05\\ 0.05\\ 0.05\\ 0.05\\ 0.05\\ 0.05\\ 0.05\\
0.05\\ 0.05\\ 0.05\\ 0.05\\ 0.05\\ 0.05\\ 0.05\\ 0.05\\ 0.05\\
0.05\\ 0.05\\ 0.05\\ 0.05\\ 0.05\\ 0.05\\ 0.05\\ 0.05\\ 0.05\\ 0.05\\
0.05\\ 0.05\\ 0.05\\ 0.05\\ 0.05\\ 0.05\\ 0.05\\ 0.05\\ 0.05\\ 0.05\\
0.05\\ 0.05\\ 0.05\\ 0.05\\ 0.05\\ 0.05\\ 0.05\\ 0.05\\ 0.05\\
0.05\\ 0.05\\ 0.05\\ 0.05\\ 0.05\\ 0.05\\ 0.05\\ 0.05\\ 0.05\\ 0.05\\
0.05\\ 0.05\\ 0.05\\ 0.05\\ 0.05\\ 0.05\\ 0.05\\ 0.05\\ 0.05\\ 0.05\\
0.05\\ 0.05\\ 0.05\\ 0.05\\ 0.05\\ 0.05\\ 0.05\\ 0.05\\ 0.05\\
0.05\\ 0.05\\ 0.05\\ 0.05\\ 0.05\\ 0.05\\ 0.05\\ 0.05\\ 0.05\\ 0.05\\
0.05\\ 0.05\\ 0.05\\ 0.05\\ 0.05\\ 0.05\\ 0.05\\ 0.05\\ 0.05\\ 0.05\\
0.05\\ 0.05\\ 0.05\\ 0.05\\ 0.05\\ 0.05\\ 0.05\\ 0.05\\ 0.05\\
}\botdata

\begin{document}
\begin{tikzpicture}
\useasboundingbox (0,0) rectangle (312.5pt,-625.2pt);
\begin{axis}[wave, at={(42.6pt,-260pt)}, anchor=south west,
  colormap name=parula, point meta min=0, point meta max=1,
  title={Wavelet Coherence Analysis\\Magnitude-Squared (R\textasciicircum 2) (0 to 1)\\Time Series: WAGES-GOV to GDP x WAGES-GOV-LONGRUN to GDP\\1375-1403 (29 years) - Annually, Ref\#: 24 \& 53},
  colorbar style={ytick={0,0.1,0.2,0.3,0.4,0.5,0.6,0.7,0.8,0.9,1}, yticklabels={0,0.1,0.2,0.3,0.4,0.5,0.6,0.7,0.8,0.9,1}}]
\addplot[heat] table[x index=0, y index=0, x expr={1375+mod(\coordindex,29)}, y expr={(\coordindex-mod(\coordindex,29))/29}, meta index=0] {\topdata};
\addplot[coi] table[x=x, y=y] {\coitab};
\end{axis}
\begin{axis}[wave, at={(42.6pt,-556.4pt)}, anchor=south west,
  colormap name=phasehsv, point meta min=-3.14159, point meta max=3.14159,
  title={Phase Angle of Smoothed Wavelet Cross-Spectrum Coefficients (-{\itshape π} to {\itshape π})\\Time Series: WAGES-GOV to GDP x WAGES-GOV-LONGRUN to GDP\\1375-1403 (29 years) - Annually, Ref\#: 24 \& 53},
  colorbar style={ytick={-3,-2,-1,0,1,2,3}, yticklabels={−3,−2,−1,0,1,2,3}}]
\addplot[heat] table[x index=0, y index=0, x expr={1375+mod(\coordindex,29)}, y expr={(\coordindex-mod(\coordindex,29))/29}, meta index=0] {\botdata};
\addplot[coi] table[x=x, y=y] {\coitab};
\end{axis}
\end{tikzpicture}
\end{document}
